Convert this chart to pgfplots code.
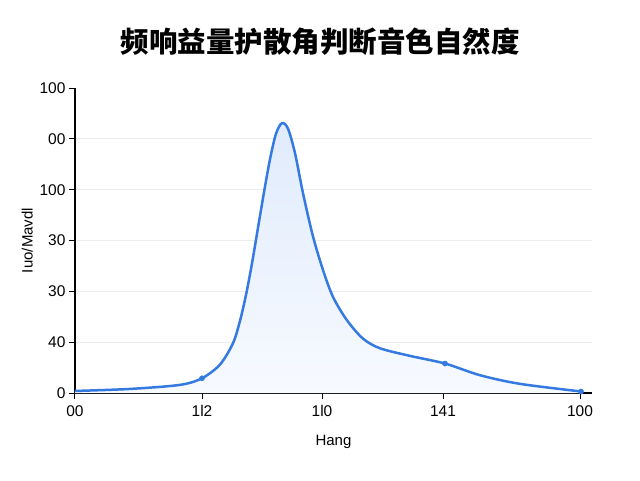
\documentclass[border=0pt]{standalone}
\usepackage{pgfplots}
\pgfplotsset{compat=1.18}
\usepackage{fontspec}
\setmainfont{Liberation Sans}
\newfontfamily\cjk{Noto Sans CJK SC}
\definecolor{lineblue}{RGB}{52,122,224}
\definecolor{filltop}{RGB}{224,235,252}
\definecolor{fillbot}{RGB}{247,250,255}
\definecolor{gridgray}{RGB}{236,236,236}

\begin{document}
\begin{tikzpicture}[x=1pt,y=1pt]
\useasboundingbox (-75,-87) rectangle (565,393);
\node[font=\cjk\bfseries\fontsize{28.5}{30}\selectfont] at (245,351) {频响益量护散角判断音色自然度};
\begin{axis}[
    scale only axis,
    width=517pt, height=305pt,
    xmin=0, xmax=517,
    ymin=0, ymax=6,
    axis lines*=left,
    axis line style={line width=1.4pt, black},
    xtick={0,127,247,368,505},
    xticklabels={00,1l2,1l0,141,100},
    ytick={0,1,2,3,4,5},
    yticklabels={0,40,30,30,100,00},
    extra y ticks={6},
    extra y tick labels={100},
    extra y tick style={grid=none},
    tick align=outside,
    major tick length=6pt,
    tick style={black, line width=1pt},
    ymajorgrids=true,
    grid style={gridgray, line width=0.8pt},
    ticklabel style={font=\fontsize{15.5}{17}\selectfont},
    xticklabel style={yshift=-3pt},
    /pgf/number format/assume math mode=true,
    xlabel={Hang},
    ylabel={Iuo/Mavdl},
    label style={font=\fontsize{15}{17}\selectfont},
    xlabel style={yshift=-11pt},
    ylabel style={yshift=-12pt},
    clip=false,
]
\pgfplotstableread{
x y
0 0.04
55 0.08
105 0.16
127 0.29
145 0.56
158 0.98
165 1.42
171 1.93
177 2.55
183 3.25
189 3.95
195 4.60
201 5.10
207 5.31
213 5.20
220 4.72
228 3.93
238 3.08
248 2.42
258 1.89
272 1.43
288 1.07
305 0.88
335 0.73
370 0.58
405 0.35
445 0.18
506 0.03
}\curve
\addplot[draw=none, top color=filltop, bottom color=fillbot, smooth] table {\curve} \closedcycle;
\addplot[lineblue, line width=2.5pt, smooth, mark=none] table {\curve};
\addplot[only marks, mark=*, mark size=2.6pt, lineblue] coordinates {(127,0.29)(370,0.58)(506,0.03)};
\end{axis}
\end{tikzpicture}
\end{document}
